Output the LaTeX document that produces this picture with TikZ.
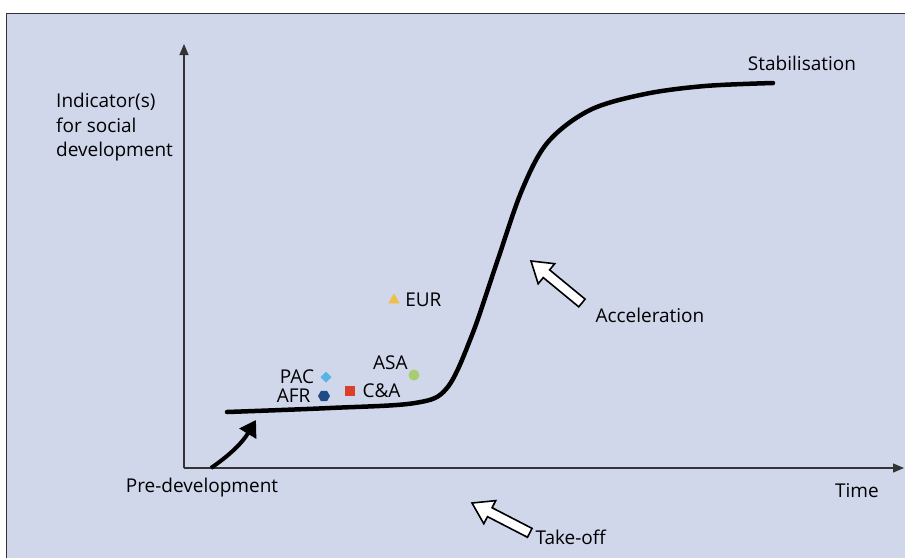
\documentclass[tikz,border=0pt]{standalone}
\usepackage{fontspec}
\setmainfont{Open Sans}
\definecolor{panelblue}{RGB}{208, 215, 235}
\definecolor{axisgrey}{RGB}{51, 51, 51}
\definecolor{eurgold}{RGB}{240, 190, 69}
\definecolor{pacblue}{RGB}{86, 180, 230}
\definecolor{afrblue}{RGB}{30, 74, 134}
\definecolor{cared}{RGB}{220, 63, 40}
\definecolor{asagreen}{RGB}{168, 205, 112}
\usetikzlibrary{shapes, arrows.meta, positioning, calc}

\begin{document}
\begin{tikzpicture}[x=1pt, y=-1pt,
    every node/.style={font=\fontsize{19}{24.5}\selectfont, text=black},
    marker/.style={inner sep=0pt, outer sep=0pt},
    blockarrow/.style={draw=black, fill=white, line width=1.6pt, line join=miter},
    axis/.style={draw=axisgrey, line width=1.2pt, -{Triangle[length=11pt, width=9pt]}}]
  \useasboundingbox (0,0) rectangle (905,558);
  \fill[panelblue] (6,13) rectangle (905,558);
  \draw[axisgrey, line width=1pt] (6,558) -- (6,13) -- (905,13);

  \coordinate (origin) at (184,468);
  \coordinate (ytop) at (184,44);
  \coordinate (xend) at (904,468);
  \draw[axis] (origin) -- (ytop);
  \draw[axis] (origin) -- (xend);

  \draw[line width=4.5pt, line cap=round] plot[smooth, tension=0.55] coordinates {
    (227,412) (330,408) (415,403) (447,388) (472,335) (497,262)
    (522,190) (548,142) (590,110) (645,94) (705,86) (773,83)};

  \coordinate (pdstart) at (211,468);
  \coordinate (pdtip) at (256,420);
  \draw[line width=4pt, -{Triangle[length=16pt, width=19pt]}] (pdstart) to[bend right=12] (pdtip);

  \coordinate (acctip) at (531,261);
  \coordinate (taketip) at (472,503);
  \begin{scope}[shift={(acctip)}, rotate=140.5]
    \draw[blockarrow] (0,0) -- (-20,13) -- (-20,5) -- (-66,5) -- (-66,-5)
      -- (-20,-5) -- (-20,-13) -- cycle;
  \end{scope}
  \begin{scope}[shift={(taketip)}, rotate=152.7]
    \draw[blockarrow] (0,0) -- (-20,13) -- (-20,5) -- (-65,5) -- (-65,-5)
      -- (-20,-5) -- (-20,-13) -- cycle;
  \end{scope}

  \node[marker, regular polygon, regular polygon sides=3, fill=eurgold, minimum size=13pt] (eur) at (394,300) {};
  \node[right=4pt of eur] (eurlabel) {EUR};
  \node[marker, diamond, fill=pacblue, minimum size=11pt] (pac) at (326,377) {};
  \node[left=3pt of pac] (paclabel) {PAC};
  \node[marker, regular polygon, regular polygon sides=6, fill=afrblue, minimum size=12pt] (afr) at (324,396) {};
  \node[left=4pt of afr] (afrlabel) {AFR};
  \node[marker, rectangle, fill=cared, minimum size=10pt] (ca) at (350,391) {};
  \node[right=4pt of ca] (calabel) {C\&A};
  \node[marker, circle, fill=asagreen, minimum size=11pt] (asa) at (414,375) {};
  \node[above left=-2pt and -1pt of asa] (asalabel) {ASA};

  \node[align=left, anchor=north west, inner sep=0pt] (ylabel) at (56,93) {Indicator(s)\\for social\\development};
  \node (stablabel) at (802,63) {Stabilisation};
  \node[anchor=west] (acclabel) at (592,315) {Acceleration};
  \node (predlabel) at (202,488) {Pre-development};
  \node (timelabel) at (857,491) {Time};
  \node[anchor=west] (takelabel) at (532,537) {Take-off};
\end{tikzpicture}
\end{document}
